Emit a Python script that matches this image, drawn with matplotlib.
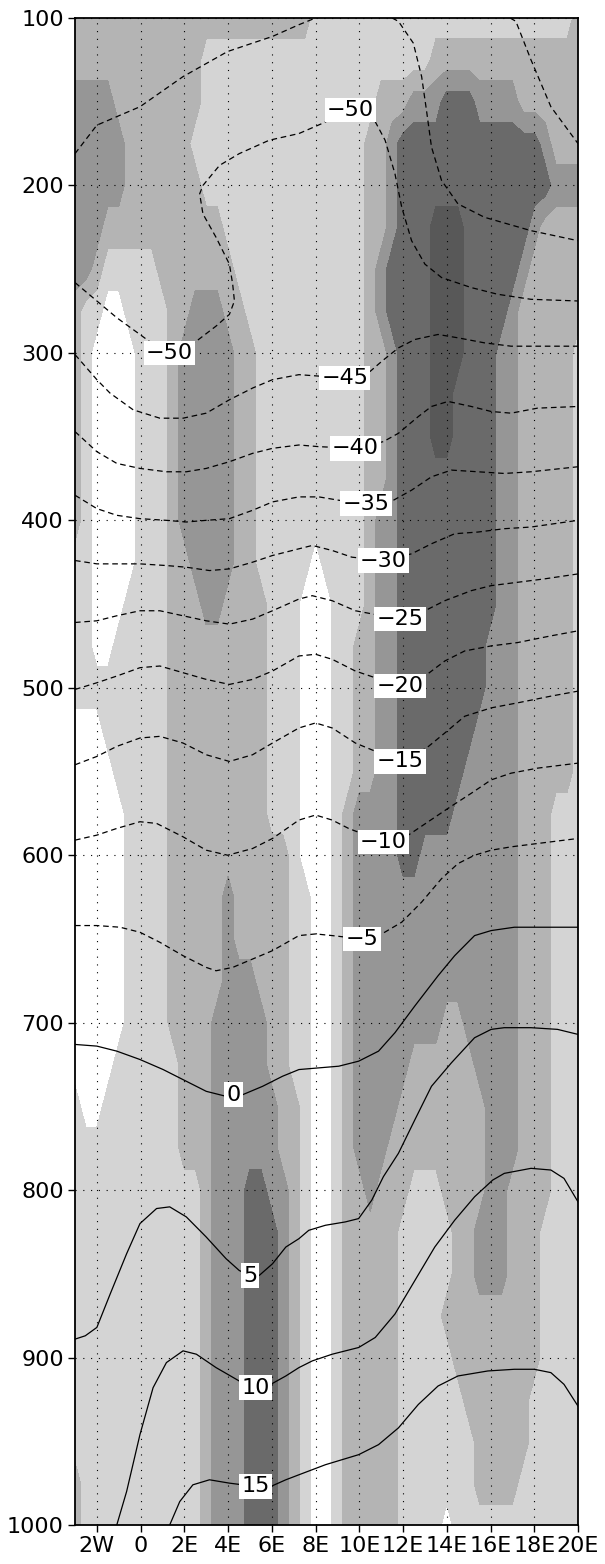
import matplotlib
matplotlib.use('Agg')
import matplotlib.pyplot as plt
import numpy as np

plt.rcParams['font.family'] = ['DejaVu Sans']

# ---- shading field (gray levels 0..5), lon every 0.5 deg, p every 25 hPa ----
grid_lon = np.arange(-3, 20.01, 0.5)
grid_p = np.arange(100, 1001, 25)
shade_rows = [
    "22222 22222 22222 22222 22111 11111 11111 11111 11111 12",  # 100
    "22222 22222 22111 11111 11111 11111 11122 22222 22222 22",  # 125
    "33332 22222 22111 11111 11111 11122 23334 44333 32222 22",  # 150
    "33333 22222 21111 11111 11111 11223 44444 44444 44432 22",  # 175
    "33333 22222 22111 11111 11111 11223 44444 44444 44443 33",  # 200
    "33322 22222 22221 11111 11111 11223 44455 54444 44322 22",  # 225
    "33211 11122 22222 11111 11111 11234 44455 54444 43222 22",  # 250
    "21100 11112 23332 21111 11111 11234 44455 54444 32222 22",  # 275
    "21000 01112 33333 22111 11111 11223 44455 54443 32222 21",  # 300
    "21000 01112 33333 22111 11111 11223 44455 44443 32222 21",  # 325
    "21000 01112 33333 22111 11111 11223 44455 44443 32222 21",  # 350
    "21000 01112 33333 22111 11111 11223 44444 44443 32222 21",  # 375
    "21000 01112 33333 22111 11111 11233 44444 44443 32222 21",  # 400
    "11000 01112 23333 22111 11011 11233 44444 44443 32222 21",  # 425
    "11000 11112 22332 22211 10001 11233 44444 44443 32222 21",  # 450
    "11001 11112 22222 22211 10001 12233 44444 44433 32222 21",  # 475
    "11111 11112 22222 22211 10001 12233 44444 44433 32222 21",  # 500
    "00011 11112 22222 22211 10001 12233 44444 44333 32222 21",  # 525
    "00001 11112 22222 22211 10001 12233 44444 43333 32222 21",  # 550
    "00000 11112 22222 22211 10001 23333 44444 33333 32221 11",  # 575
    "00000 11112 22222 22222 10001 23333 44333 33333 32221 11",  # 600
    "00000 11112 22223 22222 11001 23333 33333 33333 32221 11",  # 625
    "00000 11112 22223 22222 11001 23333 33333 33333 32221 11",  # 650
    "00000 11112 22223 33222 11001 23333 33333 33333 32221 11",  # 675
    "00000 11112 22233 33322 11001 23333 33332 23333 32221 11",  # 700
    "00001 11111 22233 33322 11001 23333 32222 22333 32221 11",  # 725
    "10011 11111 22233 33332 21001 23333 22222 22233 32221 11",  # 750
    "11111 11111 22233 33332 21001 23332 22222 22233 32221 11",  # 775
    "11111 11111 11233 34433 21001 22322 21112 22233 22221 11",  # 800
    "11111 11111 11233 34443 21001 22222 11111 22333 22211 11",  # 825
    "11111 11111 11233 34443 21001 22222 11111 22333 22211 11",  # 850
    "11111 11111 11233 34443 21001 22222 11112 22222 22211 11",  # 875
    "11111 11111 11233 34443 21001 22222 11111 22222 22211 11",  # 900
    "11111 11111 11233 34443 21001 22222 11111 12222 22111 11",  # 925
    "11111 11111 11233 34443 21001 22222 11111 11222 22111 11",  # 950
    "21111 11111 11233 34443 21001 22222 11111 11222 21111 11",  # 975
    "21111 11111 11233 34443 21001 22222 11110 11111 11111 11",  # 1000
]
shade_colors = ['#ffffff', '#d4d4d4', '#b4b4b4', '#969696', '#6a6a6a', '#585858']

# ---- isotherms (lon, hPa) ----
iso_m55a = [(-3.0, 181), (-2.0, 164), (-0.03, 153), (1.94, 135), (3.98, 120), (6.03, 111),
            (7.24, 104), (8.0, 100)]
iso_m55c = [(11.5, 100), (11.79, 102), (12.47, 115), (12.85, 135), (13.07, 155), (13.3, 177),
            (13.76, 197), (14.51, 211), (15.72, 219), (17.85, 227), (20.0, 233)]
iso_m60 = [(16.9, 100), (17.16, 102), (17.85, 125), (18.76, 153), (20.0, 175)]
iso_m50 = [(-3.0, 258), (-2.0, 269), (-1.09, 279), (-0.03, 289), (0.8, 297), (1.33, 300),
           (2.0, 298), (2.55, 293), (3.45, 284), (4.06, 277), (4.29, 269), (4.21, 259),
           (4.06, 247), (3.45, 231), (2.85, 217), (2.70, 205), (2.85, 200), (3.61, 188),
           (4.51, 181), (5.88, 173), (7.24, 169), (8.3, 163), (9.59, 155), (10.65, 160),
           (11.18, 173), (11.63, 193), (11.94, 213), (12.39, 233), (13.0, 247), (13.76, 255),
           (15.12, 261), (16.33, 265), (17.85, 268), (20.0, 269)]
iso_m45 = [(-3.0, 301), (-2.0, 316), (-1.4, 324), (-0.34, 334), (0.88, 339), (1.94, 339),
           (3.0, 336), (4.06, 328), (5.12, 321), (6.03, 316), (7.24, 313), (8.3, 314),
           (9.33, 315), (10.5, 311), (11.03, 305), (11.79, 297), (12.54, 292), (13.6, 289),
           (14.51, 291), (15.72, 294), (16.94, 296), (18.15, 296), (20.0, 296)]
iso_m40 = [(-3.0, 347), (-2.0, 359), (-1.09, 366), (-0.03, 369), (1.18, 371), (2.09, 371),
           (3.0, 369), (4.06, 365), (5.12, 360), (6.03, 357), (7.24, 355), (8.15, 356),
           (9.82, 357), (11.1, 353), (11.79, 348), (12.7, 338), (13.3, 332), (14.06, 329),
           (15.12, 332), (16.03, 335), (16.94, 336), (18.15, 333), (20.0, 332)]
iso_m35 = [(-3.0, 385), (-2.0, 393), (-1.09, 397), (-0.03, 399), (1.18, 400), (2.09, 401),
           (3.0, 400), (4.06, 399), (5.12, 394), (6.03, 389), (7.24, 386), (8.15, 386),
           (9.06, 388), (10.3, 390), (11.56, 388), (12.39, 382), (13.3, 374), (14.21, 370),
           (15.42, 371), (16.63, 372), (17.85, 371), (20.0, 368)]
iso_m30 = [(-3.0, 424), (-2.0, 426), (-0.03, 426), (1.18, 427), (2.09, 428), (3.15, 430),
           (4.06, 429), (5.12, 425), (6.03, 421), (7.24, 417), (7.85, 415), (8.76, 418),
           (9.66, 422), (11.1, 424), (12.39, 420), (13.3, 414), (14.36, 408), (15.42, 407),
           (16.63, 405), (17.85, 404), (20.0, 400)]
iso_m25 = [(-3.0, 461), (-2.0, 460), (-1.09, 457), (-0.03, 454), (0.88, 454), (1.94, 457),
           (3.0, 460), (4.06, 462), (5.12, 459), (6.03, 454), (7.24, 447), (7.85, 445),
           (8.76, 448), (9.82, 454), (11.86, 459), (13.0, 454), (13.91, 448), (15.12, 442),
           (16.03, 439), (17.24, 437), (18.45, 435), (20.0, 432)]
iso_m20 = [(-3.0, 501), (-2.0, 497), (-1.09, 493), (-0.03, 488), (0.88, 487), (1.94, 491),
           (3.0, 495), (4.06, 498), (5.12, 495), (6.03, 490), (7.24, 481), (8.0, 480),
           (8.76, 483), (9.82, 490), (11.86, 499), (13.0, 493), (13.91, 484), (14.82, 478),
           (16.03, 475), (17.24, 473), (18.76, 469), (20.0, 466)]
iso_m15 = [(-3.0, 546), (-2.0, 541), (-1.09, 535), (-0.03, 530), (0.88, 529), (1.94, 533),
           (3.0, 540), (4.06, 544), (5.12, 540), (6.03, 533), (7.24, 524), (8.0, 521),
           (8.76, 524), (9.82, 533), (11.86, 544), (13.07, 536), (13.91, 527), (14.82, 517),
           (16.03, 512), (17.24, 509), (18.76, 505), (20.0, 502)]
iso_m10 = [(-3.0, 591), (-2.0, 588), (-1.09, 584), (-0.03, 580), (0.73, 581), (1.94, 589),
           (3.0, 597), (3.98, 600), (5.12, 596), (6.03, 590), (7.24, 579), (8.0, 576),
           (8.76, 579), (9.51, 584), (11.1, 592), (12.24, 588), (13.15, 580), (14.06, 572),
           (15.12, 563), (16.03, 555), (16.94, 551), (18.15, 548), (20.0, 545)]
iso_m5 = [(-3.0, 642), (-2.0, 642), (-0.94, 643), (-0.03, 646), (0.88, 652), (1.94, 660),
          (3.0, 667), (3.45, 669), (4.21, 667), (5.12, 662), (6.03, 657), (7.24, 648),
          (8.0, 647), (8.76, 648), (10.12, 650), (11.03, 647), (11.94, 640), (12.85, 628),
          (13.76, 614), (14.51, 605), (15.27, 600), (16.03, 597), (16.94, 595), (18.15, 593),
          (20.0, 590)]
iso_0 = [(-3.0, 713), (-2.0, 714), (-1.09, 717), (-0.03, 722), (1.03, 728), (2.09, 735),
         (3.0, 741), (3.91, 744), (4.26, 743), (4.67, 743), (5.58, 738), (6.49, 732),
         (7.24, 728), (8.15, 727), (9.06, 726), (9.97, 723), (10.88, 717), (11.63, 706),
         (12.54, 690), (13.6, 672), (14.36, 660), (15.27, 648), (16.03, 645), (17.09, 643),
         (18.15, 643), (20.0, 643)]
iso_5 = [(-3.0, 889), (-2.53, 887), (-2.0, 882), (-1.39, 862), (-0.64, 838), (-0.03, 820),
         (0.73, 811), (1.33, 810), (2.09, 816), (3.0, 828), (3.91, 841), (4.51, 848),
         (5.0, 851), (5.42, 851), (6.03, 844), (6.64, 834), (7.24, 829), (7.69, 824),
         (8.45, 821), (9.36, 819), (9.97, 817), (10.57, 806), (11.1, 792), (11.79, 778),
         (12.54, 758), (13.3, 738), (14.21, 724), (15.27, 709), (16.03, 704), (16.63, 703),
         (17.85, 703), (19.06, 704), (20.0, 707)]
iso_10 = [(-1.09, 1000), (-0.64, 980), (-0.03, 946), (0.57, 918), (1.18, 903), (1.94, 896),
          (2.55, 898), (3.45, 906), (4.51, 914), (5.27, 918), (5.95, 916), (6.64, 911),
          (7.24, 906), (7.85, 902), (8.76, 898), (9.97, 894), (10.73, 888), (11.63, 874),
          (12.54, 854), (13.45, 834), (14.36, 818), (15.27, 804), (16.1, 794), (16.63, 790),
          (17.85, 787), (18.76, 788), (19.36, 793), (20.0, 807)]
iso_15 = [(1.33, 1000), (1.79, 986), (2.39, 976), (3.15, 973), (4.06, 975), (5.27, 977),
          (5.95, 977), (6.64, 973), (7.24, 970), (8.45, 964), (9.97, 958), (10.88, 952),
          (11.79, 942), (12.7, 928), (13.6, 917), (14.51, 911), (15.88, 908), (17.09, 907),
          (18.0, 907), (18.76, 909), (19.36, 916), (20.0, 929)]

dashed_lines = [iso_m60, iso_m55a, iso_m55c, iso_m50, iso_m45, iso_m40, iso_m35, iso_m30,
                iso_m25, iso_m20, iso_m15, iso_m10, iso_m5]
solid_lines = [iso_0, iso_5, iso_10, iso_15]

# contour labels
label_text = ['−50', '−50', '−45', '−40', '−35', '−30', '−25', '−20', '−15', '−10', '−5',
              '0', '5', '10', '15']
label_lon = [1.33, 9.6, 9.33, 9.82, 10.3, 11.1, 11.86, 11.86, 11.86, 11.1, 10.12,
             4.26, 5.0, 5.27, 5.27]
label_p = [300, 155, 315, 357, 390, 424, 459, 499, 544, 592, 650, 743, 851, 918, 977]

xticks = [-2, 0, 2, 4, 6, 8, 10, 12, 14, 16, 18, 20]
xticklabels = ['2W', '0', '2E', '4E', '6E', '8E', '10E', '12E', '14E', '16E', '18E', '20E']
yticks = [100, 200, 300, 400, 500, 600, 700, 800, 900, 1000]

# ---- figure ----
fig = plt.figure(figsize=(6.05, 15.64), dpi=100)
ax = fig.add_axes([75 / 605, 39 / 1564, 503 / 605, 1507 / 1564])

Z = np.array([[int(c) for c in r.replace(' ', '')] for r in shade_rows], dtype=float)
assert Z.shape == (len(grid_p), len(grid_lon))
ax.contourf(grid_lon, grid_p, Z, levels=[-0.5, 0.5, 1.5, 2.5, 3.5, 4.5, 5.5],
            colors=shade_colors, zorder=1)

for line in dashed_lines:
    xs, ys = zip(*line)
    ax.plot(xs, ys, color='black', lw=0.9, ls=(0, (4.5, 3)), zorder=3)
for line in solid_lines:
    xs, ys = zip(*line)
    ax.plot(xs, ys, color='black', lw=0.9, zorder=3)

for s, x, y in zip(label_text, label_lon, label_p):
    ax.text(x, y, s, ha='center', va='center', fontsize=16, zorder=5,
            bbox=dict(facecolor='white', edgecolor='none', boxstyle='square,pad=0.1'))

ax.set_xlim(-3, 20)
ax.set_ylim(1000, 100)
ax.set_xticks(xticks)
ax.set_xticklabels(xticklabels)
ax.set_yticks(yticks)
ax.tick_params(direction='out', length=5, width=1, labelsize=16, pad=3)
ax.grid(True, color='black', linestyle=(0, (1, 6)), linewidth=0.8, zorder=2)
ax.set_axisbelow(False)
for sp in ax.spines.values():
    sp.set_linewidth(1.3)
    sp.set_zorder(6)

fig.savefig('out.png', dpi=100)
